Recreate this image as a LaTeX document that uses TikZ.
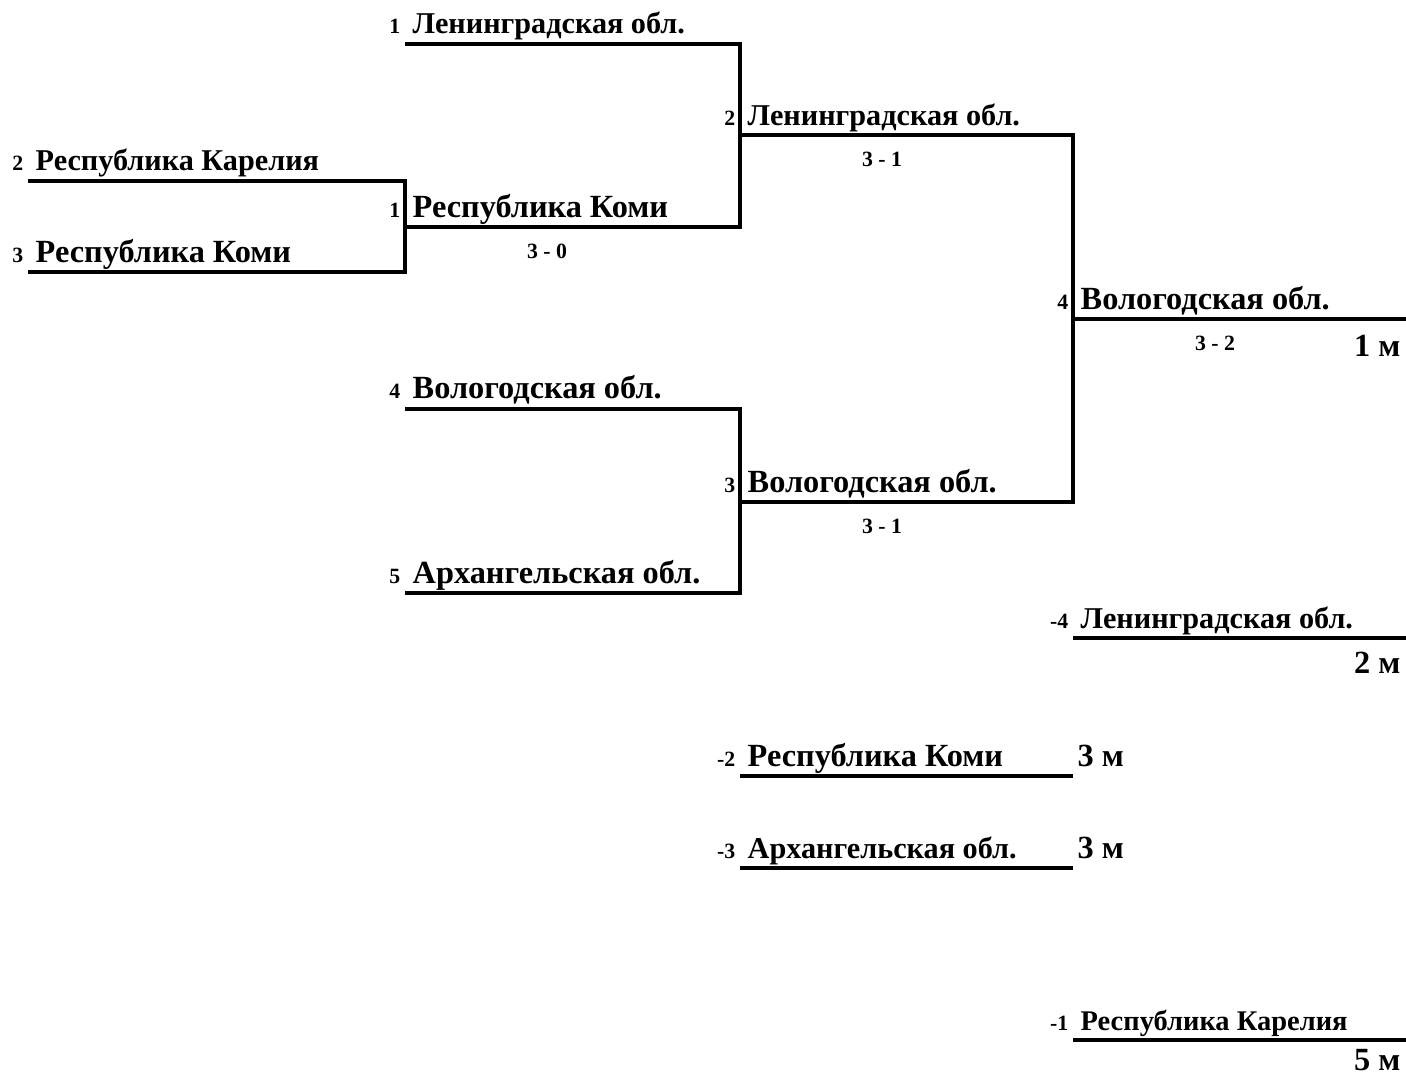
\documentclass[tikz,border=0pt]{standalone}
\usepackage{fontspec}
\setmainfont{Liberation Serif}[BoldFont={Liberation Serif Bold}]
\usetikzlibrary{calc}

\begin{document}
\begin{tikzpicture}[
  teamname/.style={anchor=base west, inner sep=0pt, font=\bfseries\fontsize{8.6}{10}\selectfont},
  bigname/.style={teamname, font=\bfseries\fontsize{9.2}{11}\selectfont},
  smallname/.style={teamname, font=\bfseries\fontsize{8.1}{10}\selectfont},
  seednum/.style={anchor=base east, inner sep=0pt, font=\bfseries\fontsize{6.2}{7}\selectfont},
  scoretxt/.style={inner sep=0pt, font=\bfseries\fontsize{6.2}{7}\selectfont},
  placetxt/.style={inner sep=0pt, font=\bfseries\fontsize{9.2}{11}\selectfont},
  bline/.style={line width=0.9pt}]
\useasboundingbox (0,0) rectangle (14.06,-10.74);

% Round 1
\coordinate (kar2a) at (0.28,-1.81);
\coordinate (kar2b) at (4.05,-1.81);
\coordinate (kom3a) at (0.28,-2.72);
\coordinate (kom3b) at (4.05,-2.72);
\draw[bline] (kar2a) -- (kar2b) -- (kom3b) -- (kom3a);
\node[seednum] (kar2s) at ($(kar2a)+(-0.04,0.1)$) {2};
\node[teamname] (kar2t) at ($(kar2a)+(0.07,0.1)$) {Республика Карелия};
\node[seednum] (kom3s) at ($(kom3a)+(-0.04,0.1)$) {3};
\node[bigname] (kom3t) at ($(kom3a)+(0.07,0.1)$) {Республика Коми};

% Round 2, top
\coordinate (len1a) at (4.05,-0.44);
\coordinate (len1b) at (7.40,-0.44);
\coordinate (kom1a) at (4.05,-2.27);
\coordinate (kom1b) at (7.40,-2.27);
\draw[bline] (len1a) -- (len1b) -- (kom1b) -- (kom1a);
\node[seednum] (len1s) at ($(len1a)+(-0.04,0.1)$) {1};
\node[teamname] (len1t) at ($(len1a)+(0.07,0.1)$) {Ленинградская обл.};
\node[seednum] (kom1s) at ($(kom1a)+(-0.04,0.1)$) {1};
\node[bigname] (kom1t) at ($(kom1a)+(0.07,0.1)$) {Республика Коми};
\node[scoretxt] (kom1r) at ($(kom1a)+(1.42,-0.24)$) {3 - 0};

% Round 2, bottom
\coordinate (vol4a) at (4.05,-4.09);
\coordinate (vol4b) at (7.40,-4.09);
\coordinate (arh5a) at (4.05,-5.93);
\coordinate (arh5b) at (7.40,-5.93);
\draw[bline] (vol4a) -- (vol4b) -- (arh5b) -- (arh5a);
\node[seednum] (vol4s) at ($(vol4a)+(-0.04,0.1)$) {4};
\node[bigname] (vol4t) at ($(vol4a)+(0.07,0.1)$) {Вологодская обл.};
\node[seednum] (arh5s) at ($(arh5a)+(-0.04,0.1)$) {5};
\node[bigname] (arh5t) at ($(arh5a)+(0.07,0.1)$) {Архангельская обл.};

% Semifinals
\coordinate (len2a) at (7.40,-1.35);
\coordinate (len2b) at (10.73,-1.35);
\coordinate (vol3a) at (7.40,-5.02);
\coordinate (vol3b) at (10.73,-5.02);
\draw[bline] (len2a) -- (len2b) -- (vol3b) -- (vol3a);
\node[seednum] (len2s) at ($(len2a)+(-0.04,0.1)$) {2};
\node[teamname] (len2t) at ($(len2a)+(0.07,0.1)$) {Ленинградская обл.};
\node[scoretxt] (len2r) at ($(len2a)+(1.42,-0.24)$) {3 - 1};
\node[seednum] (vol3s) at ($(vol3a)+(-0.04,0.1)$) {3};
\node[bigname] (vol3t) at ($(vol3a)+(0.07,0.1)$) {Вологодская обл.};
\node[scoretxt] (vol3r) at ($(vol3a)+(1.42,-0.24)$) {3 - 1};

% Final
\coordinate (vol9a) at (10.73,-3.19);
\coordinate (vol9b) at (14.06,-3.19);
\draw[bline] (vol9a) -- (vol9b);
\node[seednum] (vol9s) at ($(vol9a)+(-0.04,0.1)$) {4};
\node[bigname] (vol9t) at ($(vol9a)+(0.07,0.1)$) {Вологодская обл.};
\node[scoretxt] (vol9r) at ($(vol9a)+(1.42,-0.24)$) {3 - 2};
\node[placetxt, anchor=base east] (vol9p) at ($(vol9b)+(-0.05,-0.37)$) {1 м};

% Places
\coordinate (lenxa) at (10.73,-6.38);
\coordinate (lenxb) at (14.06,-6.38);
\draw[bline] (lenxa) -- (lenxb);
\node[seednum] (lenxs) at ($(lenxa)+(-0.04,0.1)$) {-4};
\node[teamname] (lenxt) at ($(lenxa)+(0.07,0.1)$) {Ленинградская обл.};
\node[placetxt, anchor=base east] (lenxp) at ($(lenxb)+(-0.05,-0.35)$) {2 м};

\coordinate (komxa) at (7.40,-7.76);
\coordinate (komxb) at (10.73,-7.76);
\draw[bline] (komxa) -- (komxb);
\node[seednum] (komxs) at ($(komxa)+(-0.04,0.1)$) {-2};
\node[bigname] (komxt) at ($(komxa)+(0.07,0.1)$) {Республика Коми};
\node[placetxt, anchor=base west] (komxp) at ($(komxb)+(0.04,0.1)$) {3 м};

\coordinate (arhxa) at (7.40,-8.68);
\coordinate (arhxb) at (10.73,-8.68);
\draw[bline] (arhxa) -- (arhxb);
\node[seednum] (arhxs) at ($(arhxa)+(-0.04,0.1)$) {-3};
\node[teamname] (arhxt) at ($(arhxa)+(0.07,0.1)$) {Архангельская обл.};
\node[placetxt, anchor=base west] (arhxp) at ($(arhxb)+(0.04,0.1)$) {3 м};

\coordinate (karxa) at (10.73,-10.40);
\coordinate (karxb) at (14.06,-10.40);
\draw[bline] (karxa) -- (karxb);
\node[seednum] (karxs) at ($(karxa)+(-0.04,0.1)$) {-1};
\node[smallname] (karxt) at ($(karxa)+(0.07,0.1)$) {Республика Карелия};
\node[placetxt, anchor=base east] (karxp) at ($(karxb)+(-0.05,-0.30)$) {5 м};
\end{tikzpicture}
\end{document}
